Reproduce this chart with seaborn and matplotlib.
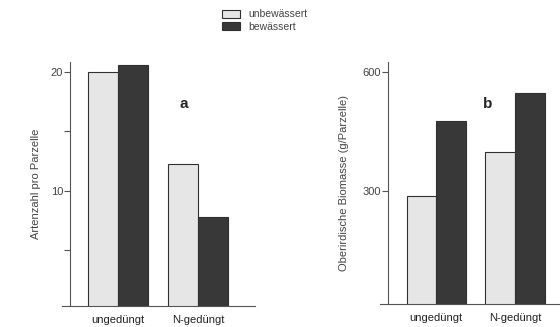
import matplotlib
matplotlib.use('Agg')
import matplotlib.pyplot as plt
import seaborn as sns
import pandas as pd

# data
categories = ['ungedüngt', 'N-gedüngt']
groups = ['unbewässert', 'bewässert']
artenzahl_unbew = [20.0, 12.2]
artenzahl_bew = [20.6, 7.8]
biomasse_unbew = [287, 398]
biomasse_bew = [476, 547]

colors = ['#e6e6e6', '#383838']
text_col = '#444444'

sns.set_style('white')
plt.rcParams['font.family'] = ['Liberation Sans', 'DejaVu Sans']


def make_df(unbew, bew):
    rows = []
    for c, v in zip(categories, unbew):
        rows.append({'cat': c, 'grp': groups[0], 'val': v})
    for c, v in zip(categories, bew):
        rows.append({'cat': c, 'grp': groups[1], 'val': v})
    return pd.DataFrame(rows)


fig = plt.figure(figsize=(5.6, 3.27), dpi=100)
ax1 = fig.add_axes([0.1107, 0.064, 0.345, 0.746])
ax2 = fig.add_axes([0.679, 0.070, 0.321, 0.74])

for ax, unbew, bew in [(ax1, artenzahl_unbew, artenzahl_bew), (ax2, biomasse_unbew, biomasse_bew)]:
    df = make_df(unbew, bew)
    sns.barplot(data=df, x='cat', y='val', hue='grp', hue_order=groups, order=categories,
                palette=colors, width=0.75, edgecolor='#303030', linewidth=0.8,
                ax=ax, legend=(ax is ax1))
    ax.set_xlabel('')
    for s in ['top', 'right']:
        ax.spines[s].set_visible(False)
    for s in ['left', 'bottom']:
        ax.spines[s].set_color('#555555')
        ax.spines[s].set_linewidth(0.8)
    ax.tick_params(axis='y', left=True, length=4, width=0.8, color='#555555',
                   labelsize=8, labelcolor=text_col, pad=1)
    ax.tick_params(axis='x', bottom=False, labelsize=8, labelcolor='#222222', pad=3)

# left panel
ax1.set_xlim(-0.7, 1.71)
ax1.spines['left'].set_position(('data', -0.6))
ax1.set_ylim(0.3, 20.8)
ax1.set_yticks([5, 10, 15, 20])
ax1.set_yticklabels(['', '10', '', '20'])
ax1.set_ylabel('Artenzahl pro Parzelle', fontsize=8, color=text_col, labelpad=7)
ax1.text(0.82, 17.3, 'a', fontsize=11, fontweight='bold', ha='center', va='center')

# right panel
ax2.set_xlim(-0.71, 1.57)
ax2.spines['left'].set_position(('data', -0.61))
ax2.set_ylim(15, 625)
ax2.set_yticks([300, 600])
ax2.set_ylabel('Oberirdische Biomasse (g/Parzelle)', fontsize=8, color=text_col, labelpad=10)
ax2.text(0.65, 520, 'b', fontsize=11, fontweight='bold', ha='center', va='center')

# legend on top
handles, labels = ax1.get_legend_handles_labels()
ax1.get_legend().remove()
leg = fig.legend(handles, labels, loc='upper left', bbox_to_anchor=(0.38, 1.0),
                 frameon=False, fontsize=7.5, handlelength=1.7, handleheight=0.8,
                 handletextpad=0.8, labelspacing=0.25)
for t in leg.get_texts():
    t.set_color(text_col)

fig.savefig('out.png', dpi=100)
